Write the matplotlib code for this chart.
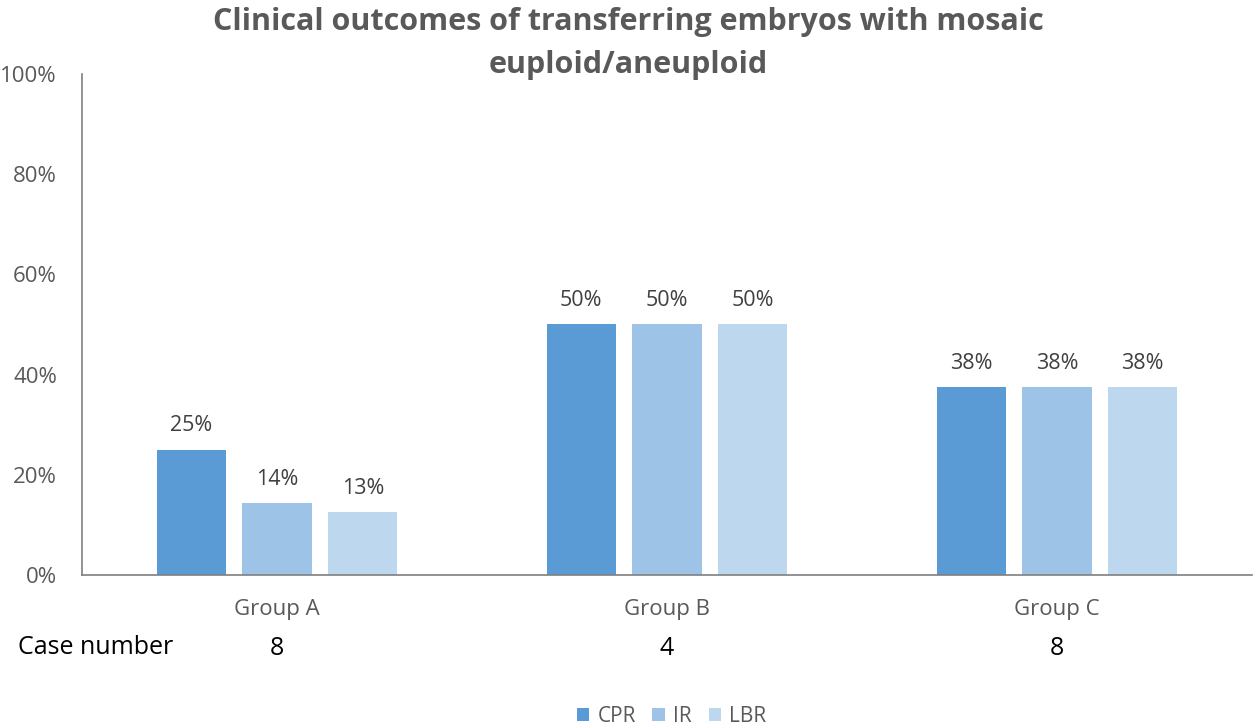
import matplotlib.pyplot as plt
import numpy as np

plt.rcParams['font.family'] = ['Open Sans', 'DejaVu Sans']

groups = ["Group A", "Group B", "Group C"]
case_numbers = [8, 4, 8]
series = ["CPR", "IR", "LBR"]
cpr = [0.25, 0.50, 0.375]
ir = [1 / 7, 0.50, 0.375]
lbr = [0.125, 0.50, 0.375]
values = [cpr, ir, lbr]
colors = ["#5B9BD5", "#9DC3E6", "#BDD7EE"]

fig = plt.figure(figsize=(12.56, 7.28), dpi=100)
ax = fig.add_axes([0.0653, 0.2102, 0.9315, 0.6882])

x = np.arange(len(groups))
width = 0.177
step = 0.22
for i, (name, vals, c) in enumerate(zip(series, values, colors)):
    pos = x + (i - 1) * step
    ax.bar(pos, vals, width, color=c, label=name)
    for px, v in zip(pos, vals):
        ax.text(px, v + 0.048, f"{int(v * 100 + 0.5)}%", ha="center", va="center",
                fontsize=15.5, color="#404040")

ax.set_xlim(-0.5, 2.5)
ax.set_ylim(0, 1)
ax.set_yticks(np.arange(0, 1.01, 0.2))
ax.set_yticklabels([f"{int(t * 100)}%" for t in np.arange(0, 1.01, 0.2)])
ax.set_xticks(x)
ax.set_xticklabels(groups)
ax.tick_params(axis="both", length=0, labelsize=16, labelcolor="#595959")
ax.tick_params(axis="x", pad=17)
ax.tick_params(axis="y", pad=18)
for s in ["top", "right"]:
    ax.spines[s].set_visible(False)
for s in ["left", "bottom"]:
    ax.spines[s].set_color("#7F7F7F")
    ax.spines[s].set_linewidth(1.2)

# case number row
fig.text(18 / 1256, 1 - 648 / 728, "Case number", fontsize=18, color="black", va="center")
for xi, n in zip(x, case_numbers):
    ax.text(xi, -0.146, str(n), transform=ax.get_xaxis_transform(), ha="center",
            va="center", fontsize=18, color="black")

fig.suptitle("Clinical outcomes of transferring embryos with mosaic\neuploid/aneuploid",
             x=0.5, y=0.99, fontsize=22, fontweight="bold", color="#595959",
             linespacing=1.55)

fig.legend(loc="center", bbox_to_anchor=(0.5347, 1 - 716 / 728), ncol=3, frameon=False,
           fontsize=15, handlelength=0.6, handleheight=0.6, handletextpad=0.4,
           columnspacing=0.8, labelcolor="#595959")

fig.savefig("out.png", dpi=100)
